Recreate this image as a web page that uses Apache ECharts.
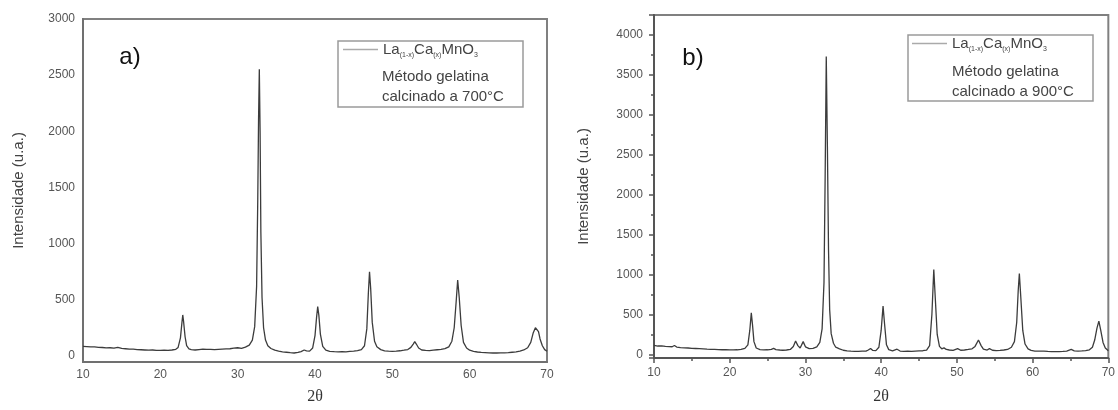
<!DOCTYPE html>
<html>
<head>
<meta charset="utf-8">
<script src="https://cdn.jsdelivr.net/npm/echarts@6/dist/echarts.min.js"></script>
<style>
html,body{margin:0;padding:0;background:#fff;}
#chart{width:1118px;height:410px;}
</style>
</head>
<body>
<div id="chart"></div>
<script>
// ---- data (2θ, intensity) ----
const panelALabel = 'a)';
const panelBLabel = 'b)';
const legendLines = ['Método gelatina'];
const tempA = 'calcinado a 700°C';
const tempB = 'calcinado a 900°C';
const xTitle = '2θ';
const yTitle = 'Intensidade (u.a.)';

const patternA = [
[10.0,84],[10.5,82],[11.0,79],[11.5,80],[12.0,76],[12.5,74],[13.0,71],[13.5,72],[14.0,68],[14.5,76],
[15.0,66],[15.5,63],[16.0,60],[16.5,59],[17.0,55],[17.5,54],[18.0,52],[18.5,50],[19.0,52],[19.5,49],
[20.0,48],[20.5,50],[21.0,49],[21.5,52],[22.0,58],[22.3,75],[22.6,160],[22.8,300],[22.9,364],[23.0,310],
[23.2,170],[23.4,90],[23.7,62],[24.0,55],[24.5,52],[25.0,56],[25.5,60],[26.0,58],[26.5,57],[27.0,55],
[27.5,58],[28.0,60],[28.5,62],[29.0,63],[29.5,68],[30.0,72],[30.5,67],[31.0,78],[31.5,95],[31.9,140],
[32.2,260],[32.45,620],[32.6,1400],[32.7,2100],[32.8,2553],[32.9,2000],[33.0,1100],[33.15,520],[33.35,250],[33.6,140],
[33.9,90],[34.3,65],[34.8,50],[35.3,42],[35.8,36],[36.3,32],[36.8,28],[37.3,25],[37.8,30],[38.2,38],
[38.6,52],[38.9,44],[39.3,42],[39.7,70],[40.0,180],[40.2,340],[40.35,438],[40.5,360],[40.7,190],[41.0,85],
[41.4,50],[41.9,40],[42.5,37],[43.0,35],[43.5,38],[44.0,36],[44.5,39],[45.0,42],[45.5,46],[46.0,56],
[46.4,90],[46.7,240],[46.9,560],[47.05,749],[47.2,600],[47.4,300],[47.7,130],[48.0,80],[48.5,55],[49.0,45],
[49.5,41],[50.0,40],[50.5,42],[51.0,45],[51.5,50],[52.0,56],[52.4,75],[52.7,105],[52.9,127],[53.1,105],
[53.4,70],[53.8,52],[54.3,48],[54.8,46],[55.3,50],[55.8,54],[56.3,58],[56.8,64],[57.3,80],[57.7,130],
[58.0,250],[58.25,480],[58.45,675],[58.65,520],[58.9,270],[59.2,120],[59.6,70],[60.0,50],[60.5,40],[61.0,34],
[61.5,30],[62.0,28],[62.5,26],[63.0,25],[63.5,25],[64.0,26],[64.5,27],[65.0,28],[65.5,32],[66.0,36],
[66.5,42],[67.0,52],[67.5,72],[67.9,120],[68.2,200],[68.5,250],[68.7,260],[68.9,215],[69.1,150],[69.4,90],
[69.7,55],[70.0,40]
];

const patternB = [
[10,112],[10.5,105],[11,108],[11.5,100],[12,98],[12.4,96],[12.7,112],[13,92],[13.5,85],[14,82],
[14.5,80],[15,76],[15.5,74],[16,72],[16.5,70],[17,66],[17.5,64],[18,62],[18.5,60],[19,58],
[19.5,58],[20,56],[20.5,56],[21,58],[21.5,62],[22,75],[22.4,120],[22.65,300],[22.85,520],[23.0,380],
[23.2,160],[23.5,80],[24,60],[24.5,56],[25,58],[25.5,62],[25.8,75],[26.1,60],[26.6,55],[27,52],
[27.5,55],[28,62],[28.4,100],[28.7,167],[29.0,110],[29.3,80],[29.7,160],[30.0,95],[30.5,72],[31,75],
[31.5,95],[31.9,150],[32.2,320],[32.45,900],[32.6,2200],[32.75,3729],[32.9,2600],[33.05,1300],[33.2,560],[33.4,260],
[33.7,140],[34.0,90],[34.5,70],[35,52],[35.5,44],[36,40],[36.5,38],[37,38],[37.5,40],[38,42],
[38.3,55],[38.6,75],[38.9,50],[39.3,48],[39.7,90],[40.0,300],[40.25,604],[40.45,380],[40.7,120],[41.0,60],
[41.5,45],[42.1,65],[42.5,42],[43,38],[43.5,40],[44,38],[44.5,42],[45,44],[45.5,46],[46,55],
[46.4,110],[46.7,500],[46.95,1062],[47.15,700],[47.4,250],[47.7,100],[48.0,70],[48.3,82],[48.6,62],[49.0,55],
[49.5,50],[50.1,72],[50.5,52],[51,55],[51.5,62],[52,70],[52.4,100],[52.85,180],[53.2,110],[53.5,65],
[54,55],[54.3,72],[54.7,52],[55.2,48],[55.7,50],[56.2,55],[56.7,62],[57.2,90],[57.6,160],[57.9,400],
[58.1,800],[58.25,1012],[58.45,700],[58.7,300],[59.0,130],[59.4,70],[59.8,50],[60.3,42],[61,40],[61.5,42],
[62,38],[62.5,36],[63,35],[63.5,36],[64,38],[64.5,42],[65.1,62],[65.5,45],[66,42],[66.5,44],
[67,48],[67.5,58],[67.9,90],[68.2,180],[68.5,330],[68.75,417],[69.0,300],[69.3,150],[69.6,80],[70,45]
];

// ---- chart ----
const chart = echarts.init(document.getElementById('chart'), null, {renderer:'canvas'});
const FONT = '"Liberation Sans", Arial, sans-serif';
const legendRich = {
  m: {fontSize: 15, color: '#444', fontFamily: FONT, lineHeight: 18},
  s: {fontSize: 7, color: '#444', fontFamily: FONT, verticalAlign: 'bottom', lineHeight: 7}
};
const legendFmt = () => '{m|La}{s|(1-x)}{m|Ca}{s|(x)}{m|MnO}{s|3}';

function xAxisCfg(grid, gap, ticks, lineColor, margin) {
  return {
    type: 'value', gridIndex: grid, min: 10, max: 70, interval: 10,
    axisLine: {show: true, onZero: false, lineStyle: {color: lineColor, width: 2}},
    axisTick: {show: ticks, inside: false, length: 5, lineStyle: {color: lineColor, width: 1.5}},
    minorTick: {show: ticks, splitNumber: 2, length: 3, lineStyle: {color: lineColor, width: 1.5}},
    splitLine: {show: false},
    axisLabel: {color: '#555', fontSize: 12, fontFamily: FONT, margin: margin},
    name: xTitle, nameLocation: 'middle', nameGap: gap,
    nameTextStyle: {fontFamily: '"Liberation Serif", "DejaVu Serif", serif', fontSize: 16, color: '#333'}
  };
}
function yAxisCfg(grid, min, max, split, gap, ticks, lineColor, margin) {
  return {
    type: 'value', gridIndex: grid, min: min, max: max, splitNumber: split,
    axisLine: {show: true, onZero: false, lineStyle: {color: lineColor, width: 2}},
    axisTick: {show: ticks, inside: false, length: 5, lineStyle: {color: lineColor, width: 1.5}},
    minorTick: {show: ticks, splitNumber: 2, length: 3, lineStyle: {color: lineColor, width: 1.5}},
    splitLine: {show: false},
    axisLabel: {color: '#555', fontSize: 12, fontFamily: FONT, margin: margin,
      formatter: v => (v >= 0 && v % 500 === 0) ? String(v) : ''},
    name: yTitle, nameLocation: 'middle', nameGap: gap, nameRotate: 90,
    nameTextStyle: {fontFamily: FONT, fontSize: 15, color: '#444'}
  };
}

const legendItem = name => ({name: name, icon: 'rect', itemStyle: {color: '#aaa', borderWidth: 0}});

const option = {
  backgroundColor: '#fff',
  animation: false,
  grid: [
    {left: 83, top: 19, width: 464, height: 344, show: true, borderColor: '#808080', borderWidth: 2, backgroundColor: 'transparent'},
    {left: 654, top: 15, width: 463, height: 344, show: true, borderColor: '#808080', borderWidth: 2, backgroundColor: 'transparent'}
  ],
  xAxis: [
    xAxisCfg(0, 27, false, '#707070', 7),
    xAxisCfg(1, 31, true, '#555', 9)
  ],
  yAxis: [
    yAxisCfg(0, -55, 3000, 6, 57, false, '#707070', 8),
    yAxisCfg(1, -45, 4250, 8, 63, true, '#555', 11)
  ],
  legend: [
    {data: [legendItem('A')],
     left: 343, top: 42, padding: 0, itemWidth: 35, itemHeight: 1.5, selectedMode: false,
     formatter: legendFmt, textStyle: {rich: legendRich}},
    {data: [legendItem('B')],
     left: 912, top: 36, padding: 0, itemWidth: 35, itemHeight: 1.5, selectedMode: false,
     formatter: legendFmt, textStyle: {rich: legendRich}}
  ],
  graphic: [
    {type: 'rect', shape: {x: 338, y: 41, width: 185, height: 66}, style: {fill: 'none', stroke: '#9a9a9a', lineWidth: 1.5}, z: 10},
    {type: 'text', x: 382, y: 77, style: {text: legendLines[0], fontSize: 15, fontFamily: FONT, fill: '#444', verticalAlign: 'middle', align: 'left'}, z: 10},
    {type: 'text', x: 382, y: 97, style: {text: tempA, fontSize: 15, fontFamily: FONT, fill: '#444', verticalAlign: 'middle', align: 'left'}, z: 10},
    {type: 'rect', shape: {x: 908, y: 35, width: 185, height: 66}, style: {fill: 'none', stroke: '#9a9a9a', lineWidth: 1.5}, z: 10},
    {type: 'text', x: 952, y: 72, style: {text: legendLines[0], fontSize: 15, fontFamily: FONT, fill: '#444', verticalAlign: 'middle', align: 'left'}, z: 10},
    {type: 'text', x: 952, y: 92, style: {text: tempB, fontSize: 15, fontFamily: FONT, fill: '#444', verticalAlign: 'middle', align: 'left'}, z: 10},
    {type: 'text', x: 130, y: 57, style: {text: panelALabel, fontSize: 24, fontFamily: FONT, fill: '#111', verticalAlign: 'middle', align: 'center'}, z: 10},
    {type: 'text', x: 693, y: 58, style: {text: panelBLabel, fontSize: 24, fontFamily: FONT, fill: '#111', verticalAlign: 'middle', align: 'center'}, z: 10}
  ],
  series: [
    {name: 'A', type: 'line', xAxisIndex: 0, yAxisIndex: 0, data: patternA, symbol: 'none',
     lineStyle: {color: '#3c3c3c', width: 1.3}, itemStyle: {color: '#3c3c3c'}},
    {name: 'B', type: 'line', xAxisIndex: 1, yAxisIndex: 1, data: patternB, symbol: 'none',
     lineStyle: {color: '#3c3c3c', width: 1.3}, itemStyle: {color: '#3c3c3c'}}
  ]
};
chart.setOption(option);
</script>
</body>
</html>
